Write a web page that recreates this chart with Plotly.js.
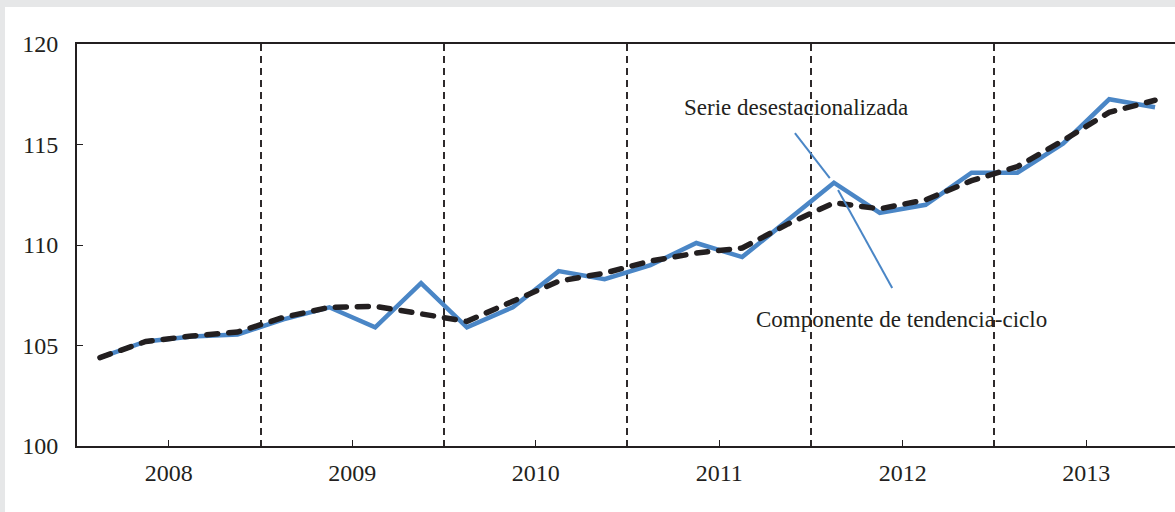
<!DOCTYPE html>
<html>
<head>
<meta charset="utf-8">
<script src="https://cdn.plot.ly/plotly-3.0.1.min.js"></script>
<style>
  html, body { margin: 0; padding: 0; background: #e6e7e8; width: 1175px; height: 512px; overflow: hidden; }
  #panel { position: absolute; left: 5px; top: 7px; width: 1170px; height: 505px; background: #ffffff; }
  #chart { width: 1170px; height: 505px; }
  .scatterlayer .trace:nth-child(2) path.js-line { stroke-linecap: round !important; }
</style>
</head>
<body>
<div id="panel"><div id="chart"></div></div>
<script>
// Quarterly index, 2008Q1 .. 2013Q4
const quarters = [0,1,2,3,4,5,6,7,8,9,10,11,12,13,14,15,16,17,18,19,20,21,22,23];
const years = ["2008","2009","2010","2011","2012","2013"];
const yearCenters = [1.5, 5.5, 9.5, 13.5, 17.5, 21.5];
const yearBoundaries = [3.5, 7.5, 11.5, 15.5, 19.5];

// Serie desestacionalizada
const seasonallyAdjusted = [104.4, 105.2, 105.45, 105.55, 106.3, 106.9, 105.9, 108.1,
                            105.9, 106.9, 108.7, 108.3, 109.0, 110.1, 109.4, 111.25,
                            113.1, 111.6, 112.0, 113.6, 113.6, 115.05, 117.25, 116.85];
// Componente de tendencia-ciclo
const trendCycle = [104.4, 105.2, 105.47, 105.67, 106.4, 106.9, 106.95, 106.6,
                    106.2, 107.2, 108.2, 108.6, 109.2, 109.6, 109.85, 111.05,
                    112.1, 111.8, 112.25, 113.2, 113.9, 115.2, 116.6, 117.2];

const labelSA = "Serie desestacionalizada";
const labelTC = "Componente de tendencia-ciclo";

const ink = '#231f20';
const blue = '#4a86c6';
const font = 'Liberation Serif, Times New Roman, serif';

const traces = [
  { x: quarters, y: seasonallyAdjusted, type: 'scatter', mode: 'lines', name: labelSA,
    line: { color: blue, width: 4.5 }, hoverinfo: 'skip' },
  { x: quarters, y: trendCycle, type: 'scatter', mode: 'lines', name: labelTC,
    line: { color: ink, width: 5.5, dash: '11px,11px' }, hoverinfo: 'skip' }
];

const layout = {
  width: 1170, height: 505,
  margin: { l: 72, r: 0, t: 37, b: 66 },
  paper_bgcolor: '#ffffff', plot_bgcolor: '#ffffff',
  showlegend: false,
  font: { family: font, color: ink, size: 24 },
  xaxis: {
    range: [-0.5, 23.435], showgrid: false, zeroline: false,
    showline: true, linecolor: ink, linewidth: 2, mirror: true,
    tickvals: yearCenters, ticktext: years,
    ticks: 'inside', ticklen: 6, tickwidth: 1, tickcolor: ink,
    ticklabelstandoff: 4,
    tickfont: { family: font, size: 24, color: ink },
    minor: { tickvals: yearBoundaries, showgrid: true, gridcolor: '#2e2a2b', gridwidth: 2,
             griddash: '7px,5px', ticks: '' }
  },
  yaxis: {
    range: [100, 120], tickvals: [100, 105, 110, 115, 120],
    showgrid: false, zeroline: false,
    showline: true, linecolor: ink, linewidth: 2,
    ticks: 'inside', ticklen: 6, tickwidth: 1, tickcolor: ink,
    ticklabelstandoff: 12,
    tickfont: { family: font, size: 24, color: ink }
  },
  annotations: [
    { x: 15.18, y: 116.82, xref: 'x', yref: 'y', text: labelSA, showarrow: false,
      xanchor: 'center', yanchor: 'middle', font: { family: font, size: 23, color: ink } },
    { x: 17.48, y: 106.27, xref: 'x', yref: 'y', text: labelTC, showarrow: false,
      xanchor: 'center', yanchor: 'middle', font: { family: font, size: 23, color: ink } }
  ],
  shapes: [
    { type: 'line', xref: 'x', yref: 'y', x0: 15.15, y0: 115.57, x1: 15.91, y1: 113.33,
      line: { color: blue, width: 2 } },
    { type: 'line', xref: 'x', yref: 'y', x0: 16.09, y0: 112.74, x1: 17.27, y1: 107.86,
      line: { color: blue, width: 2 } }
  ]
};

Plotly.newPlot('chart', traces, layout, { displayModeBar: false, staticPlot: true });
</script>
</body>
</html>
